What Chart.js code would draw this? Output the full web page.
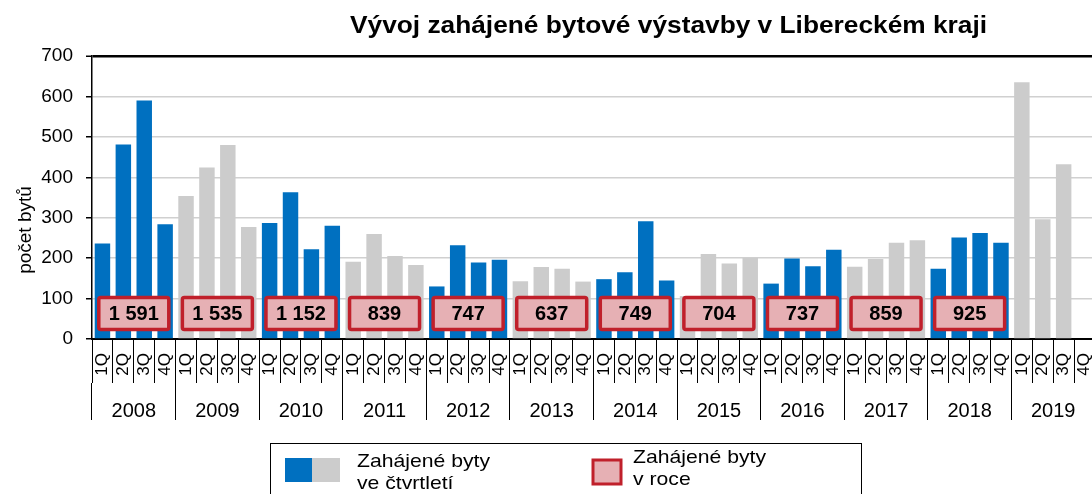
<!DOCTYPE html>
<html><head><meta charset="utf-8">
<script src="https://cdn.jsdelivr.net/npm/chart.js@4/dist/chart.umd.min.js"></script>
<style>
html,body{margin:0;padding:0;background:#fff;overflow:hidden;width:1092px;height:494px}
#wrap{position:relative;width:1100px;height:494px}
</style>
</head><body>
<div id="wrap"><canvas id="c" width="1100" height="494"></canvas></div>
<script>
// ---- data ----
const years = ['2008','2009','2010','2011','2012','2013','2014','2015','2016','2017','2018','2019'];
const quarterNames = ['1Q','2Q','3Q','4Q'];
const quarterlyValues = [
  236,481,590,284,
  354,424,480,277,
  287,363,222,280,
  191,260,205,183,
  130,232,189,196,
  143,178,174,142,
  148,165,291,145,
  106,210,187,201,
  137,199,180,221,
  179,198,238,244,
  174,251,262,238,
  635,296,432,null
];
const annualTotals = [1591,1535,1152,839,747,637,749,704,737,859,925,null];
const yTicks = [0,100,200,300,400,500,600,700];

const titleText = 'Vývoj zahájené bytové výstavby v Libereckém kraji';
const yTitleText = 'počet bytů';
const legendQuarterText = ['Zahájené byty','ve čtvrtletí'];
const legendYearText = ['Zahájené byty','v roce'];

// ---- styles ----
const FONT = "'Liberation Sans', Arial, sans-serif";
const BLUE = '#0070C0', GRAY = '#CCCCCC', PINK = '#E6B0B4', RED = '#C0202B';
const BOX_LEVEL = 63;

const quarterLabels = [];
years.forEach(() => quarterNames.forEach(q => quarterLabels.push(q)));
const barColors = quarterLabels.map((_, i) => (Math.floor(i / 4) % 2 === 0 ? BLUE : GRAY));

function fmt(v){ return String(v).replace(/\B(?=(\d{3})+(?!\d))/g, ' '); }

// draw text with a horizontal stretch factor (x = left edge)
function stretchText(ctx, text, x, y, sx){
  ctx.save();
  ctx.translate(x, y); ctx.scale(sx, 1);
  ctx.fillText(text, 0, 0);
  ctx.restore();
}

const annotPlugin = {
  id: 'annot',
  afterDatasetsDraw(chart){
    const ctx = chart.ctx, yr = chart.scales.yr, y = chart.scales.y;
    ctx.save();
    annualTotals.forEach((v, i) => {
      if (v == null) return;
      const cx = yr.getPixelForValue(i), cy = y.getPixelForValue(BOX_LEVEL);
      const w = 70, h = 32;
      ctx.beginPath();
      ctx.roundRect(cx - w/2, cy - h/2, w, h, 2);
      ctx.fillStyle = PINK; ctx.fill();
      ctx.lineWidth = 3.5; ctx.strokeStyle = RED; ctx.stroke();
      ctx.fillStyle = '#000'; ctx.font = 'bold 20px ' + FONT;
      ctx.textAlign = 'center'; ctx.textBaseline = 'middle';
      ctx.fillText(fmt(v), cx, cy + 1);
    });
    ctx.restore();
  },
  afterDraw(chart){
    const ctx = chart.ctx;
    ctx.save();
    // title
    ctx.fillStyle = '#000';
    ctx.font = 'bold 23px ' + FONT;
    ctx.textAlign = 'left'; ctx.textBaseline = 'alphabetic';
    const tw = ctx.measureText(titleText).width;
    stretchText(ctx, titleText, 350, 33, 637 / tw);
    // y title
    ctx.save();
    ctx.translate(26, 230); ctx.rotate(-Math.PI/2);
    ctx.font = '19px ' + FONT; ctx.textAlign = 'center'; ctx.textBaseline = 'middle';
    ctx.fillText(yTitleText, 0, 0);
    ctx.restore();
    // legend
    ctx.lineWidth = 1; ctx.strokeStyle = '#000';
    ctx.strokeRect(270.5, 443.5, 591, 60);
    ctx.fillStyle = BLUE; ctx.fillRect(285, 458, 27, 24);
    ctx.fillStyle = GRAY; ctx.fillRect(312, 458, 28, 24);
    ctx.beginPath(); ctx.rect(593, 460, 28, 24);
    ctx.fillStyle = PINK; ctx.fill(); ctx.lineWidth = 3; ctx.strokeStyle = RED; ctx.stroke();
    ctx.fillStyle = '#000'; ctx.font = '19px ' + FONT; ctx.textAlign = 'left'; ctx.textBaseline = 'alphabetic';
    const lw = ctx.measureText(legendQuarterText[0]).width;
    const sx = 133 / lw;
    stretchText(ctx, legendQuarterText[0], 357, 467, sx);
    stretchText(ctx, legendQuarterText[1], 357, 489, sx);
    stretchText(ctx, legendYearText[0], 633, 463, sx);
    stretchText(ctx, legendYearText[1], 633, 485, sx);
    ctx.restore();
  }
};

new Chart(document.getElementById('c'), {
  type: 'bar',
  data: {
    labels: quarterLabels,
    datasets: [{
      data: quarterlyValues,
      backgroundColor: barColors,
      borderWidth: 0,
      barPercentage: 0.74,
      categoryPercentage: 1,
      xAxisID: 'q', yAxisID: 'y'
    }]
  },
  options: {
    responsive: false, animation: false, devicePixelRatio: 1,
    layout: { padding: { top: 56, right: 5, left: 0, bottom: 74 } },
    plugins: { legend: { display: false }, title: { display: false }, tooltip: { enabled: false } },
    scales: {
      y: {
        min: 0, max: 700,
        afterBuildTicks: s => { s.ticks = yTicks.map(v => ({ value: v })); },
        ticks: { color: '#000', font: { family: FONT, size: 19 }, padding: 13 },
        grid: {
          color: c => (c.tick && c.tick.value === 700 ? '#000' : '#D0D0D0'),
          lineWidth: c => (c.tick && c.tick.value === 700 ? 2.5 : 1.5),
          tickLength: 6, tickColor: '#000', tickWidth: 1.5
        },
        border: { color: '#000', width: 1.5 },
        afterFit: s => { s.width = 92; }
      },
      q: {
        type: 'category', position: 'bottom', weight: 1, offset: true,
        grid: { offset: true, drawOnChartArea: false, tickLength: 44, color: '#000', lineWidth: 1 },
        border: { color: '#000', width: 2 },
        ticks: { autoSkip: false, minRotation: 90, maxRotation: 90, padding: -30, color: '#000', font: { family: FONT, size: 17 } },
        afterFit: s => { s.height = 44; }
      },
      yr: {
        type: 'category', labels: years, position: 'bottom', weight: 2, offset: true,
        grid: { offset: true, drawOnChartArea: false, tickLength: 37, color: '#000', lineWidth: 1 },
        border: { display: false },
        ticks: { autoSkip: false, maxRotation: 0, padding: -21, color: '#000', font: { family: FONT, size: 20 } },
        afterFit: s => { s.height = 37; }
      }
    }
  },
  plugins: [annotPlugin]
});
</script>
</body></html>
